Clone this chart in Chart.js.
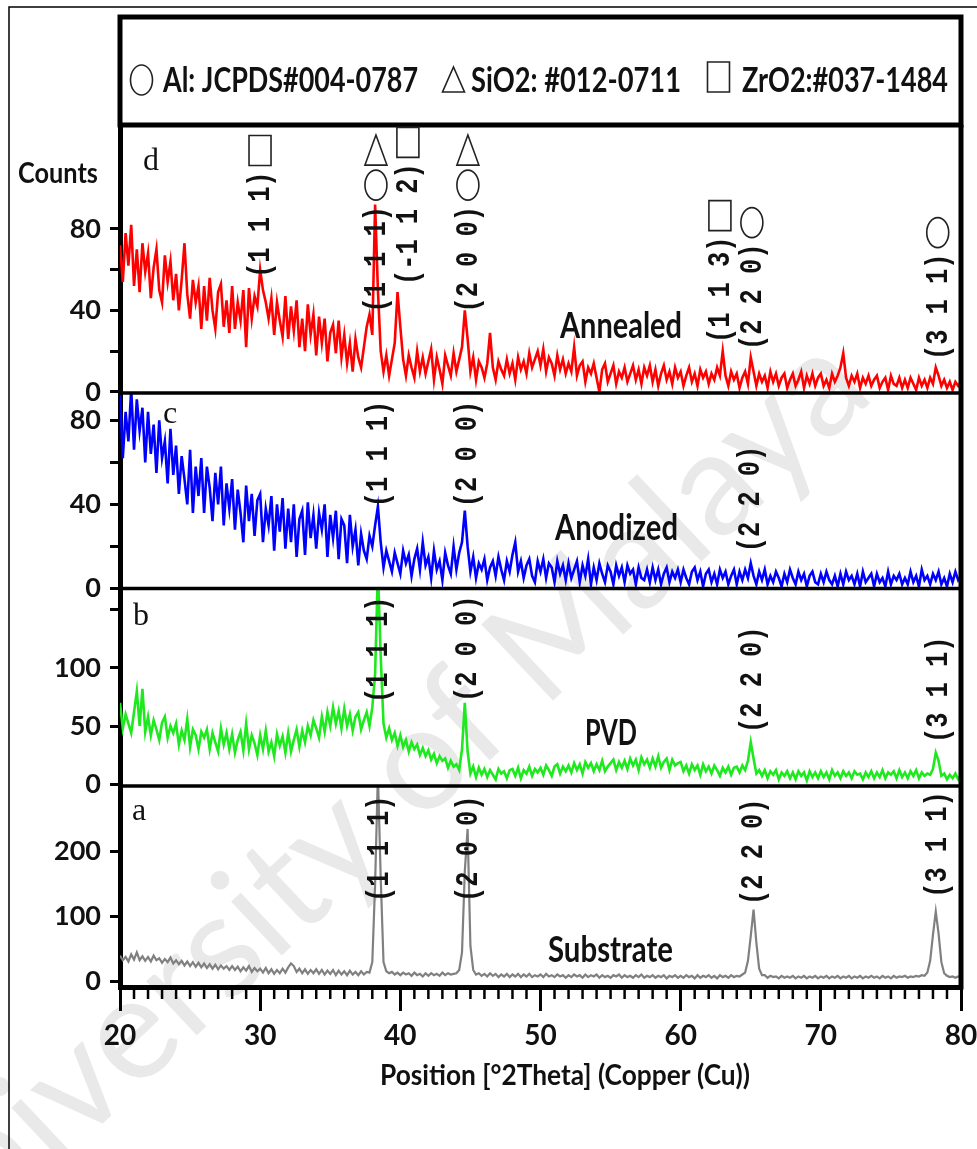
<!DOCTYPE html>
<html><head><meta charset="utf-8">
<script src="https://cdn.jsdelivr.net/npm/chart.js@4.4.1/dist/chart.umd.min.js"></script>
<style>html,body{margin:0;padding:0;background:#fff;}canvas{display:block;}</style>
</head><body>
<canvas id="c" width="977" height="1149"></canvas>
<script>
// ---------- data (2θ step 0.2°) ----------
const twoTheta = [
20,20.2,20.4,20.6,20.8,21,21.2,21.4,21.6,21.8,
22,22.2,22.4,22.6,22.8,23,23.2,23.4,23.6,23.8,
24,24.2,24.4,24.6,24.8,25,25.2,25.4,25.6,25.8,
26,26.2,26.4,26.6,26.8,27,27.2,27.4,27.6,27.8,
28,28.2,28.4,28.6,28.8,29,29.2,29.4,29.6,29.8,
30,30.2,30.4,30.6,30.8,31,31.2,31.4,31.6,31.8,
32,32.2,32.4,32.6,32.8,33,33.2,33.4,33.6,33.8,
34,34.2,34.4,34.6,34.8,35,35.2,35.4,35.6,35.8,
36,36.2,36.4,36.6,36.8,37,37.2,37.4,37.6,37.8,
38,38.2,38.4,38.6,38.8,39,39.2,39.4,39.6,39.8,
40,40.2,40.4,40.6,40.8,41,41.2,41.4,41.6,41.8,
42,42.2,42.4,42.6,42.8,43,43.2,43.4,43.6,43.8,
44,44.2,44.4,44.6,44.8,45,45.2,45.4,45.6,45.8,
46,46.2,46.4,46.6,46.8,47,47.2,47.4,47.6,47.8,
48,48.2,48.4,48.6,48.8,49,49.2,49.4,49.6,49.8,
50,50.2,50.4,50.6,50.8,51,51.2,51.4,51.6,51.8,
52,52.2,52.4,52.6,52.8,53,53.2,53.4,53.6,53.8,
54,54.2,54.4,54.6,54.8,55,55.2,55.4,55.6,55.8,
56,56.2,56.4,56.6,56.8,57,57.2,57.4,57.6,57.8,
58,58.2,58.4,58.6,58.8,59,59.2,59.4,59.6,59.8,
60,60.2,60.4,60.6,60.8,61,61.2,61.4,61.6,61.8,
62,62.2,62.4,62.6,62.8,63,63.2,63.4,63.6,63.8,
64,64.2,64.4,64.6,64.8,65,65.2,65.4,65.6,65.8,
66,66.2,66.4,66.6,66.8,67,67.2,67.4,67.6,67.8,
68,68.2,68.4,68.6,68.8,69,69.2,69.4,69.6,69.8,
70,70.2,70.4,70.6,70.8,71,71.2,71.4,71.6,71.8,
72,72.2,72.4,72.6,72.8,73,73.2,73.4,73.6,73.8,
74,74.2,74.4,74.6,74.8,75,75.2,75.4,75.6,75.8,
76,76.2,76.4,76.6,76.8,77,77.2,77.4,77.6,77.8,
78,78.2,78.4,78.6,78.8,79,79.2,79.4,79.6,79.8,
80];

const annealed = [
72,54,78,62,82,52,70,49,73,59,
68,46,61,70,50,44,67,54,64,45,
58,40,55,73,48,36,55,44,52,31,
52,35,56,40,31,49,53,32,45,29,
52,31,44,35,50,22,51,36,47,42,
60,50,44,36,46,28,44,35,27,47,
26,42,30,45,22,36,20,43,28,38,
18,37,24,36,15,29,33,19,35,17,
28,14,24,10,26,17,12,22,32,38,
28,92,50,20,10,18,8,16,24,49,
32,16,8,18,12,7,20,10,17,9,
15,21,6,17,11,4,18,13,8,19,
10,16,22,40,26,10,17,6,15,12,
7,14,29,12,6,15,11,8,16,9,
14,6,17,11,15,9,19,12,16,20,
13,21,10,17,14,8,18,11,16,9,
14,10,22,8,13,15,5,12,9,14,
7,0,11,14,5,9,13,4,10,7,
12,5,9,13,6,11,4,12,8,13,
5,11,3,9,13,6,10,4,12,7,
10,3,8,12,5,9,3,11,7,10,
4,9,6,12,8,20,8,3,10,6,
9,2,7,10,4,17,10,3,9,5,
8,2,10,5,9,3,7,9,2,6,
9,3,6,10,2,8,4,9,3,7,
9,3,6,2,9,5,8,12,19,7,
3,8,5,9,2,7,4,8,3,6,
8,2,5,7,1,8,4,3,7,2,
6,2,7,4,1,7,3,6,2,7,
4,12,8,3,6,2,5,1,5,3,
5];

const anodized = [
92,62,84,70,95,66,90,75,86,60,
84,64,78,55,80,62,70,50,76,54,
68,45,63,52,40,66,36,58,44,62,
36,58,48,32,55,40,58,30,50,38,
52,28,47,36,22,49,32,45,25,42,
45,22,38,30,44,18,40,27,43,19,
38,22,40,15,33,37,16,41,24,35,
19,36,28,40,15,35,24,37,14,33,
30,12,35,20,28,11,26,18,14,25,
20,30,39,22,10,18,13,8,17,12,
7,18,12,16,6,14,19,9,22,11,
15,5,18,9,13,4,17,11,7,20,
9,17,22,37,20,8,15,5,12,9,
14,4,10,13,6,15,9,4,13,8,
16,22,8,13,5,11,14,6,3,13,
8,14,5,12,10,3,13,7,11,4,
12,5,9,13,3,11,6,14,2,10,
4,12,7,3,11,8,2,11,6,10,
3,11,7,9,2,10,5,4,9,3,
10,4,9,2,7,10,3,8,5,9,
3,9,5,2,8,10,4,8,1,7,
9,3,7,2,9,5,8,2,6,9,
2,8,4,9,5,12,6,2,8,4,
9,2,6,3,8,5,1,7,3,9,
5,2,8,4,7,1,6,8,3,2,
7,3,8,4,2,6,1,7,2,8,
4,6,2,7,1,8,3,5,7,1,
7,3,5,1,8,2,6,4,7,2,
5,2,8,3,6,1,9,4,6,2,
7,4,8,2,5,1,7,3,8,4,
6];

const pvd = [
70,48,60,52,44,62,80,50,82,45,
58,42,55,47,38,53,58,40,50,44,
52,34,46,38,56,32,47,42,30,45,
40,47,30,44,36,28,48,34,44,30,
43,27,38,45,29,52,30,42,35,25,
42,30,46,28,36,24,43,33,41,27,
44,28,38,47,32,46,36,50,42,55,
48,40,58,45,62,50,66,52,63,48,
65,50,60,46,58,62,47,55,62,50,
66,95,185,110,52,40,48,38,44,33,
42,32,38,28,36,30,34,25,31,24,
29,21,26,18,24,20,22,14,20,15,
17,12,30,70,28,9,15,6,14,8,
13,6,12,8,4,13,9,11,5,12,
13,7,14,5,12,9,15,7,13,10,
14,8,16,12,7,15,17,9,15,11,
16,10,18,12,17,9,19,14,18,11,
17,12,20,11,15,18,21,12,19,14,
20,13,22,16,21,12,23,17,21,14,
22,15,24,14,19,22,12,21,16,18,
19,11,16,9,17,12,16,8,17,11,
15,9,16,12,7,14,10,15,8,14,
15,10,16,12,20,36,22,9,12,7,
12,5,11,8,12,4,10,7,11,5,
10,4,11,7,10,3,11,6,10,5,
11,6,10,4,12,7,10,5,11,7,
10,5,11,8,9,4,10,6,11,5,
10,6,12,5,10,8,11,5,12,6,
10,5,11,7,12,5,10,7,9,8,
13,27,20,7,9,4,8,5,9,4,
8];

const substrate = [
40,33,38,31,42,34,45,33,39,32,
38,31,40,33,36,29,35,30,37,28,
33,27,32,25,31,24,30,23,29,22,
28,21,27,20,26,19,25,20,24,18,
24,18,23,16,22,17,24,15,21,16,
20,14,21,13,19,12,18,13,20,14,
22,28,24,15,20,13,19,12,18,13,
19,12,18,11,17,12,18,10,17,11,
16,10,17,11,15,10,16,11,15,14,
30,150,320,160,30,16,13,15,11,14,
10,14,11,13,9,14,10,12,8,13,
9,13,10,12,9,14,10,13,11,12,
13,18,45,170,235,55,18,11,13,9,
12,8,13,9,12,7,11,8,12,7,
11,8,12,7,11,8,12,7,10,8,
11,7,12,8,10,7,11,8,10,6,
10,7,11,8,10,6,11,7,10,8,
11,6,10,7,9,6,10,8,11,6,
10,7,9,6,10,7,11,6,9,7,
10,6,9,7,10,5,9,7,10,6,
9,6,10,7,9,5,10,6,9,7,
10,6,9,5,10,7,9,6,10,7,
9,8,11,14,32,70,111,60,20,10,
10,6,9,7,8,5,9,6,8,6,
9,5,8,6,9,5,8,6,9,5,
8,6,9,5,8,6,9,5,8,6,
9,5,8,6,9,5,8,6,9,6,
8,5,9,6,8,5,9,6,8,7,
9,6,8,7,9,8,10,9,14,32,
72,108,74,30,13,9,7,8,6,8,
7];

const xTicks = [20,30,40,50,60,70,80];
const annealedTicks = [0,20,40,60,80];  const annealedTickLabels = [0,40,80];
const anodizedTicks = [0,20,40,60,80];  const anodizedTickLabels = [0,40,80];
const pvdTicks = [0,50,100,150];        const pvdTickLabels = [0,50,100];
const substrateTicks = [0,100,200];     const substrateTickLabels = [0,100,200];

const sampleNames = ['Annealed','Anodized','PVD','Substrate'];
const panelLetters = ['d','c','b','a'];

// peak annotations: anchor in data units (2θ, counts at label start)
const peakLabels = [
  {axis:'yD', at:29.99, from:56,   text:'(1 1 1)',  phases:['ZrO2']},
  {axis:'yD', at:38.26, from:39,   text:'(1 1 1)',  phases:['Al','SiO2']},
  {axis:'yD', at:40.54, from:52.5, text:'(-1 1 2)', phases:['ZrO2']},
  {axis:'yD', at:44.82, from:39,   text:'(2 0 0)',  phases:['Al','SiO2']},
  {axis:'yD', at:62.8,  from:24,   text:'(1 1 3)',  phases:['ZrO2']},
  {axis:'yD', at:65.08, from:20.6, text:'(2 2 0)',  phases:['Al']},
  {axis:'yD', at:78.34, from:15.7, text:'(3 1 1)',  phases:['Al']},
  {axis:'yC', at:38.4,  from:38.7, text:'(1 1 1)'},
  {axis:'yC', at:44.75, from:38.7, text:'(2 0 0)'},
  {axis:'yC', at:64.94, from:17.3, text:'(2 2 0)'},
  {axis:'yB', at:38.4,  from:69.8, text:'(1 1 1)'},
  {axis:'yB', at:44.75, from:70.7, text:'(2 0 0)'},
  {axis:'yB', at:65.08, from:44,   text:'(2 2 0)'},
  {axis:'yB', at:78.34, from:35.3, text:'(3 1 1)'},
  {axis:'yA', at:38.47, from:122.6,text:'(1 1 1)'},
  {axis:'yA', at:44.82, from:122.6,text:'(2 0 0)'},
  {axis:'yA', at:65.15, from:118,  text:'(2 2 0)'},
  {axis:'yA', at:78.27, from:129,  text:'(3 1 1)'}
];
const phaseShape = {Al:'circle', SiO2:'triangle', ZrO2:'square'};
const legendItems = [
  {shape:'circle',   text:'Al: JCPDS#004-0787'},
  {shape:'triangle', text:'SiO2: #012-0711'},
  {shape:'square',   text:'ZrO2:#037-1484'}
];

// ---------- helpers ----------
function pts(vals){ return twoTheta.map((t,i)=>({x:t, y:vals[i]})); }

function yAxis(ticksArr, labelsArr, min, max, weight, stackWeight){
  return {
    type:'linear', position:'left', stack:'panels', stackWeight, weight,
    min, max, bounds:'data', offset:false,
    grid:{display:true, drawOnChartArea:false, drawTicks:true, tickLength:10, color:'#000', lineWidth:3},
    border:{display:true, color:'#000', width:5},
    ticks:{autoSkip:false, padding:9, color:'#111',
      font:{family:'Lato', weight:'bold', size:27},
      callback:(v)=> labelsArr.includes(v) ? String(v) : ''},
    afterBuildTicks: s => { s.ticks = ticksArr.map(v=>({value:v})); },
    afterFit: s => { s.width = 110; s.paddingTop = 0; s.paddingBottom = 0; }
  };
}

function drawShape(ctx, kind, cx, top, w, h){
  ctx.beginPath();
  if (kind==='circle') ctx.ellipse(cx, top+h/2, w/2, h/2, 0, 0, Math.PI*2);
  else if (kind==='triangle'){ ctx.moveTo(cx, top); ctx.lineTo(cx+w/2, top+h); ctx.lineTo(cx-w/2, top+h); ctx.closePath(); }
  else ctx.rect(cx-w/2, top, w, h);
  ctx.stroke();
}

const decor = {
  id:'decor',
  beforeDraw(chart){
    const ctx = chart.ctx;
    ctx.save();
    ctx.translate(-82, 1297);
    ctx.rotate(-43.2*Math.PI/180);
    ctx.fillStyle = '#e9e9e9';
    ctx.font = '146px Lato';
    ctx.textBaseline = 'alphabetic';
    ctx.fillText('University of Malaya', 0, 0);
    ctx.restore();
  },
  beforeDatasetDraw(chart, args){
    const s = args.meta.yScale, a = chart.chartArea, ctx = chart.ctx;
    ctx.save();
    ctx.beginPath();
    ctx.rect(a.left, s.top, a.right-a.left, s.bottom-s.top);
    ctx.clip();
  },
  afterDatasetDraw(chart){ chart.ctx.restore(); },
  afterDraw(chart){
    const ctx = chart.ctx, a = chart.chartArea, sc = chart.scales, x = sc.x;
    ctx.save();
    // outer frame
    ctx.strokeStyle = '#000'; ctx.lineWidth = 1.5;
    ctx.beginPath(); ctx.moveTo(9, 1149); ctx.lineTo(9, 7); ctx.lineTo(977, 7); ctx.stroke();
    // legend box + right border
    ctx.lineWidth = 5;
    ctx.strokeRect(a.left, 17, a.right-a.left, a.top-17);
    ctx.beginPath(); ctx.moveTo(a.right, a.top); ctx.lineTo(a.right, a.bottom+2.5); ctx.stroke();
    // panel separators
    ctx.lineWidth = 3.5;
    ['yD','yC','yB'].forEach(id=>{
      const yb = sc[id].bottom;
      ctx.beginPath(); ctx.moveTo(a.left, yb); ctx.lineTo(a.right, yb); ctx.stroke();
    });
    // minor x ticks
    ctx.lineWidth = 2.5;
    for (let t = 21; t < 80; t++){
      if (t % 10 === 0) continue;
      const px = x.getPixelForValue(t);
      ctx.beginPath(); ctx.moveTo(px, a.bottom); ctx.lineTo(px, a.bottom+12); ctx.stroke();
    }
    // legend content
    ctx.fillStyle = '#111'; ctx.strokeStyle = '#222'; ctx.lineWidth = 1.6;
    ctx.font = 'bold 34px Lato'; ctx.textBaseline = 'alphabetic'; ctx.textAlign = 'left';
    const legendPos = [{sx:141.5, sy:65, tx:163, tw:255},{sx:453.5, sy:67, tx:471, tw:210},{sx:718.5, sy:62, tx:742, tw:206}];
    legendItems.forEach((it,i)=>{
      const p = legendPos[i];
      drawShape(ctx, it.shape, p.sx, p.sy, 22, it.shape==='triangle'?25:30);
      ctx.fillText(it.text, p.tx, 92, p.tw);
    });
    // Counts
    ctx.font = 'bold 28px Lato';
    ctx.fillText('Counts', 18, 183, 80);
    // x title
    ctx.fillText('Position [°2Theta] (Copper (Cu))', 380, 1085, 370);
    // panel letters
    ctx.font = '32px "Liberation Serif"';
    const letterPos = [[143,170],[163,423],[133,625],[132,820]];
    panelLetters.forEach((l,i)=> ctx.fillText(l, letterPos[i][0], letterPos[i][1]));
    // sample names
    ctx.font = 'bold 36px Lato';
    const namePos = [[560,338,122],[555,540,123],[585,745,52],[548,962,125]];
    sampleNames.forEach((n,i)=> ctx.fillText(n, namePos[i][0], namePos[i][1], namePos[i][2]));
    // peak labels
    peakLabels.forEach(pl=>{
      const px = x.getPixelForValue(pl.at);
      const py = sc[pl.axis].getPixelForValue(pl.from);
      const len = pl.text.length * 15.2;
      ctx.save();
      ctx.translate(px, py);
      ctx.rotate(-Math.PI/2);
      ctx.font = 'bold 31px "Liberation Mono"';
      ctx.textBaseline = 'middle'; ctx.textAlign = 'left';
      ctx.fillStyle = '#111';
      ctx.fillText(pl.text, 0, 1, len);
      ctx.restore();
      let top = py - len - 6;
      (pl.phases||[]).forEach(ph=>{
        top -= 30;
        drawShape(ctx, phaseShape[ph], px, top, 22, 30);
        top -= 5;
      });
    });
    ctx.restore();
  }
};

new Chart(document.getElementById('c'), {
  type:'line',
  data:{
    datasets:[
      {label:'Annealed',  data:pts(annealed),  yAxisID:'yD', borderColor:'#ff0000', borderWidth:2.6, clip:false},
      {label:'Anodized',  data:pts(anodized),  yAxisID:'yC', borderColor:'#0000ff', borderWidth:2.6, clip:false},
      {label:'PVD',       data:pts(pvd),       yAxisID:'yB', borderColor:'#1ee81e', borderWidth:2.6, clip:false},
      {label:'Substrate', data:pts(substrate), yAxisID:'yA', borderColor:'#808080', borderWidth:2.2, clip:false}
    ]
  },
  options:{
    responsive:false, animation:false, devicePixelRatio:1,
    elements:{point:{radius:0}, line:{tension:0}},
    layout:{padding:{left:10, right:16, top:125, bottom:92}},
    plugins:{legend:{display:false}, tooltip:{enabled:false}},
    scales:{
      x:{type:'linear', position:'bottom', min:20, max:80, bounds:'data',
        grid:{display:true, drawOnChartArea:false, tickLength:24, color:'#000', lineWidth:3},
        border:{display:true, color:'#000', width:5},
        ticks:{autoSkip:false, maxRotation:0, padding:8, color:'#111', font:{family:'Lato', weight:'bold', size:28}},
        afterBuildTicks: s => { s.ticks = xTicks.map(v=>({value:v})); },
        afterFit: s => { s.height = 70; s.paddingLeft = 0; s.paddingRight = 0; }
      },
      yD: yAxis(annealedTicks, annealedTickLabels, -0.5, 131, 4, 268),
      yC: yAxis(anodizedTicks, anodizedTickLabels, 0, 93, 3, 195.5),
      yB: yAxis(pvdTicks, pvdTickLabels, -1.7, 168.5, 2, 197.5),
      yA: yAxis(substrateTicks, substrateTickLabels, -8.2, 301, 1, 201)
    }
  },
  plugins:[decor]
});
</script>
</body></html>
